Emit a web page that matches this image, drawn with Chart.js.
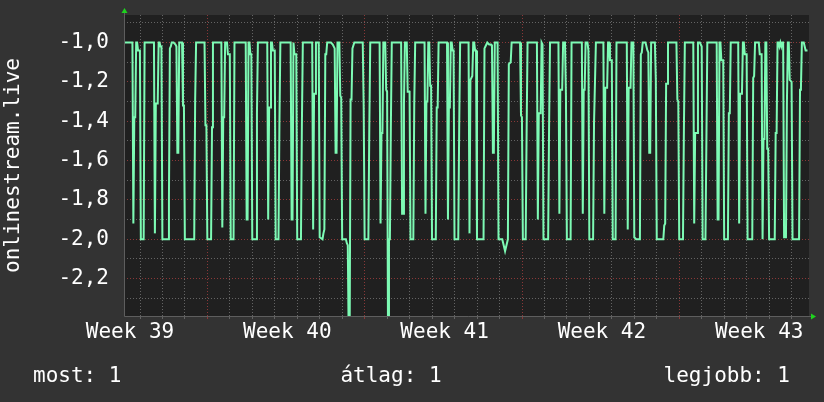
<!DOCTYPE html>
<html>
<head>
<meta charset="utf-8">
<script src="https://cdn.jsdelivr.net/npm/chart.js@4.4.0/dist/chart.umd.min.js"></script>
<style>
    html, body { margin: 0; padding: 0; background: #333333; }
    canvas { display: block; }
</style>
</head>
<body>
<canvas id="chart" width="824" height="402"></canvas>
<script>
// hours since the left edge of the graph, and the value at that hour
const hours = [
    0, 9, 10, 11, 12, 13, 14, 15, 17, 18, 21, 22, 32, 33, 34, 36, 37, 38, 39, 40,
    41, 47, 48, 49, 50, 51, 53, 55, 56, 57, 58, 59, 62, 63, 64, 65, 75, 76, 77,
    86, 87, 88, 89, 93, 94, 95, 104, 105, 106, 107, 108, 110, 111, 113, 114, 117, 118,
    130, 131, 132, 133, 134, 135, 136, 137, 141, 142, 143, 153, 154, 155, 156, 157, 158, 159, 161, 162,
    165, 166, 167, 178, 179, 180, 181, 182, 184, 185, 189, 190, 191, 201, 202, 203, 204, 205, 208, 209,
    212, 213, 214, 215, 216, 217, 221, 223, 225, 226, 227, 228, 230, 231, 232, 233, 237, 238, 239, 240,
    241, 242, 243, 244, 246, 255, 256, 257, 261, 262, 263, 273, 274, 275, 276, 277, 279, 280, 281, 282,
    283, 284, 285, 286, 296, 297, 298, 299, 300, 302, 303, 305, 306, 309, 310, 311, 321, 322, 323, 324,
    325, 326, 327, 328, 329, 333, 334, 335, 336, 345, 346, 347, 348, 349, 350, 351, 352, 353, 357, 358, 359,
    368, 369, 370, 372, 373, 374, 375, 376, 377, 384, 385, 386, 388, 390, 392, 393, 394, 395, 396, 399,
    400, 404, 405, 407, 409, 410, 411, 413, 414, 423, 424, 425, 426, 429, 430, 431, 441, 442, 443, 445,
    446, 447, 448, 453, 454, 455, 464, 465, 466, 468, 469, 471, 472, 473, 477, 478,
    489, 490, 491, 492, 493, 495, 496, 497, 501, 502, 503, 504, 512, 513, 514, 516, 517, 518, 519, 521,
    522, 525, 526, 537, 538, 539, 541, 542, 544, 545, 547, 551, 552, 553, 554, 557, 559, 560, 561, 562,
    563, 567, 568, 569, 576, 577, 578, 579, 580, 581, 590, 591, 592, 593, 597, 598, 599,
    608, 609, 610, 612, 613, 615, 616, 617, 618, 621, 622, 623, 633, 634, 635, 636, 637, 638, 640, 641,
    645, 646, 647, 648, 656, 657, 658, 660, 661, 662, 663, 665, 666, 671, 672, 673, 674, 678, 679, 681,
    682, 683, 684, 685, 686, 687, 688, 689, 695, 696, 697, 698, 699, 700, 701, 702, 703, 704, 705, 707,
    708, 709, 710, 711, 713, 714, 721, 722, 723, 724, 726, 727, 728, 730
];
const values = [
    -1, -1, -1.92, -1.38, -1.38, -1, -1, -1.04, -1.04, -2, -2, -1, -1, -1.97, -1.31, -1.31, -1, -1, -1.02, -1.02,
    -2, -2, -1.79, -1.03, -1.02, -1, -1, -1.01, -1.02, -1.56, -1.56, -1, -1, -1.32, -1.32, -2, -2, -1.29, -1,
    -1, -1.42, -1.42, -2, -2, -1.43, -1, -1, -1.94, -1.38, -1.38, -1, -1, -1.06, -1.06, -2, -2, -1,
    -1, -1.9, -1.9, -1, -1, -1.06, -1.06, -2, -2, -1.36, -1, -1, -1.9, -1.33, -1.33, -1, -1, -1.04, -1.04, -2,
    -2, -1.41, -1, -1, -1.9, -1.9, -1, -1.06, -1.06, -2, -2, -1.41, -1, -1, -1.95, -1.26, -1.26, -1, -1, -1.99,
    -2, -1.97, -1.95, -1.06, -1.06, -1, -1, -1.01, -1.03, -1.56, -1.56, -1, -1, -1.27, -1.28, -2, -2, -2.02, -2.03, -2.5,
    -2.5, -1.29, -1.29, -1.03, -1, -1, -1.33, -2, -2, -1.43, -1, -1, -1.92, -1.46, -1.46, -1, -1, -1.24, -1.25, -2.5,
    -2, -2, -1.43, -1, -1, -1.87, -1.87, -1.31, -1, -1, -1.25, -1.25, -2, -2, -1.31, -1, -1, -1.87, -1.3, -1.3,
    -1, -1, -1.22, -1.22, -2, -2, -1.33, -1.33, -1, -1, -1.9, -1.33, -1.33, -1, -1, -1.04, -1.04, -2, -2, -1.43, -1,
    -1, -1.97, -1.19, -1.17, -1, -1, -1.04, -1.04, -2, -2, -1.03, -1.02, -1, -1.01, -1.01, -1.02, -1.56, -1.56, -1, -1,
    -2, -2, -2.02, -2.06, -2.02, -2, -1.11, -1.1, -1, -1, -1.37, -1.38, -2, -2, -1.46, -1, -1, -1.9, -1.36, -1.36,
    -1, -1.01, -2, -2, -1.43, -1, -1, -1.87, -1.24, -1.24, -1, -1, -1.27, -2, -2, -1,
    -1, -1.87, -1.24, -1.24, -1, -1, -1.04, -2, -2, -1.41, -1.41, -1, -1, -1.87, -1.23, -1.23, -1, -1, -1.09, -1.09,
    -2, -2, -1, -1, -1.95, -1.23, -1.23, -1, -1, -1.99, -2, -2, -1.06, -1.05, -1, -1, -1.04, -1.05, -1.56, -1.56,
    -1, -1, -1.19, -2, -2, -1.93, -1.92, -1.21, -1.21, -1, -1, -1.29, -1.3, -2, -2, -1.44, -1,
    -1, -1.92, -1.46, -1.46, -1, -1, -1.01, -1.02, -2, -2, -1.51, -1, -1, -1.9, -1.9, -1, -1, -1.09, -1.09, -2,
    -2, -1.36, -1.36, -1, -1, -1.92, -1.26, -1.26, -1, -1, -1.06, -1.06, -2, -2, -1.18, -1.17, -1, -1, -1.06, -1.06,
    -2, -1.49, -1.49, -1, -1, -1.54, -1.54, -2, -2, -1.46, -1.46, -1, -1, -1.02, -1, -1.02, -1, -1, -1.99, -1.99,
    -1.31, -1, -1, -1.19, -1.2, -2, -2, -1.24, -1.23, -1, -1, -1.02, -1.04, -1.04
];

const weekLabels = ['Week 39', 'Week 40', 'Week 41', 'Week 42', 'Week 43'];
const weekLabelHours = [6.4, 174.4, 342.4, 510.4, 678.4];
const weekStartHours = [89.1, 257.1, 425.1, 593.1];
const firstDayHour = 17.1;
const yTickValues = [-2.3, -2.2, -2.1, -2.0, -1.9, -1.8, -1.7, -1.6, -1.5, -1.4, -1.3, -1.2, -1.1, -1.0, -0.9];

const seriesName = 'onlinestream.live';
const summary = [
    { text: 'most: 1', align: 'left', x: 33 },
    { text: 'átlag: 1', align: 'center', x: 391 },
    { text: 'legjobb: 1', align: 'right', x: 790 }
];

const FONT = '"DejaVu Sans Mono", monospace';
const LINE_COLOR = '#7dfab4';
const GRID_GREY = '#646464';
const GRID_RED = '#8a3838';
const ARROW = '#1ed21e';

// x ticks: a grid line each day, a red one each week, and label-only ticks in mid week
const xTicks = [];
for (let h = firstDayHour; h < 731; h += 24) {
    const isWeek = weekStartHours.some(w => Math.abs(w - h) < 0.01);
    xTicks.push({ value: h, kind: isWeek ? 'week' : 'day', text: '' });
}
weekLabelHours.forEach((h, i) => xTicks.push({ value: h, kind: 'label', text: weekLabels[i] }));
xTicks.sort((a, b) => a.value - b.value);

const isMajorY = v => Math.round(v * 10) % 2 === 0;

const xGridColor = c => {
    const k = c.tick && c.tick.kind;
    if (k === 'week') return GRID_RED;
    if (k === 'day') return GRID_GREY;
    return 'rgba(0,0,0,0)';
};

const noPadding = ax => {
    ax.paddingTop = 0;
    ax.paddingBottom = 0;
    ax.paddingLeft = 0;
    ax.paddingRight = 0;
};

const extras = {
    id: 'extras',
    beforeDraw(chart) {
        const { ctx, chartArea: a } = chart;
        ctx.save();
        ctx.fillStyle = '#333333';
        ctx.fillRect(0, 0, chart.width, chart.height);
        ctx.fillStyle = '#202020';
        ctx.fillRect(a.left, a.top, a.right - a.left, a.bottom - a.top);
        ctx.restore();
    },
    afterDraw(chart) {
        const { ctx, chartArea: a } = chart;
        ctx.save();

        // axes
        ctx.strokeStyle = '#5e5e5e';
        ctx.lineWidth = 1;
        ctx.beginPath();
        ctx.moveTo(a.left + 0.5, a.top - 2);
        ctx.lineTo(a.left + 0.5, a.bottom + 0.5);
        ctx.lineTo(a.right + 3, a.bottom + 0.5);
        ctx.stroke();

        // arrow heads
        ctx.fillStyle = ARROW;
        ctx.beginPath();
        ctx.moveTo(a.left + 0.5, a.top - 7);
        ctx.lineTo(a.left - 2.5, a.top - 2);
        ctx.lineTo(a.left + 3.5, a.top - 2);
        ctx.closePath();
        ctx.fill();
        ctx.beginPath();
        ctx.moveTo(a.right + 7, a.bottom + 0.5);
        ctx.lineTo(a.right + 2, a.bottom - 2.5);
        ctx.lineTo(a.right + 2, a.bottom + 3.5);
        ctx.closePath();
        ctx.fill();

        ctx.fillStyle = '#ffffff';
        ctx.font = '21px ' + FONT;

        // vertical title
        ctx.save();
        ctx.translate(14, (a.top + a.bottom) / 2);
        ctx.rotate(-Math.PI / 2);
        ctx.textAlign = 'center';
        ctx.textBaseline = 'middle';
        ctx.fillText(seriesName, 0, 0);
        ctx.restore();

        // summary line
        ctx.textBaseline = 'alphabetic';
        summary.forEach(s => {
            ctx.textAlign = s.align;
            ctx.fillText(s.text, s.x, 382);
        });
        ctx.restore();
    }
};

new Chart(document.getElementById('chart'), {
    type: 'line',
    data: {
        datasets: [{
            label: seriesName,
            data: hours.map((h, i) => ({ x: h, y: values[i] })),
            borderColor: LINE_COLOR,
            borderWidth: 2,
            pointRadius: 0,
            tension: 0,
            fill: false
        }]
    },
    options: {
        responsive: false,
        animation: false,
        devicePixelRatio: 1,
        layout: { padding: { top: 15, right: 15, left: 0, bottom: 0 } },
        plugins: {
            legend: { display: false },
            tooltip: { enabled: false }
        },
        scales: {
            x: {
                type: 'linear',
                min: 0,
                max: 731.6,
                afterBuildTicks: ax => { ax.ticks = xTicks.map(t => ({ ...t })); },
                afterFit: ax => { ax.height = 86; noPadding(ax); },
                grid: {
                    color: xGridColor,
                    lineWidth: 1,
                    drawTicks: true,
                    tickLength: 3,
                    tickColor: xGridColor
                },
                border: { display: false, dash: [1, 2] },
                ticks: {
                    autoSkip: false,
                    maxRotation: 0,
                    minRotation: 0,
                    padding: 1,
                    color: '#ffffff',
                    font: { family: FONT, size: 21 },
                    callback: (v, i, ts) => (ts[i] && ts[i].text) || ''
                }
            },
            y: {
                min: -2.39,
                max: -0.86,
                afterBuildTicks: ax => { ax.ticks = yTickValues.map(v => ({ value: v })); },
                afterFit: ax => { ax.width = 124; noPadding(ax); },
                grid: {
                    color: c => isMajorY(c.tick.value) ? GRID_RED : GRID_GREY,
                    lineWidth: 1,
                    drawTicks: false
                },
                border: { display: false, dash: [1, 2] },
                ticks: {
                    autoSkip: false,
                    padding: 15,
                    color: '#ffffff',
                    font: { family: FONT, size: 21 },
                    callback: v => isMajorY(v) ? v.toFixed(1).replace('.', ',') : ''
                }
            }
        }
    },
    plugins: [extras]
});
</script>
</body>
</html>
